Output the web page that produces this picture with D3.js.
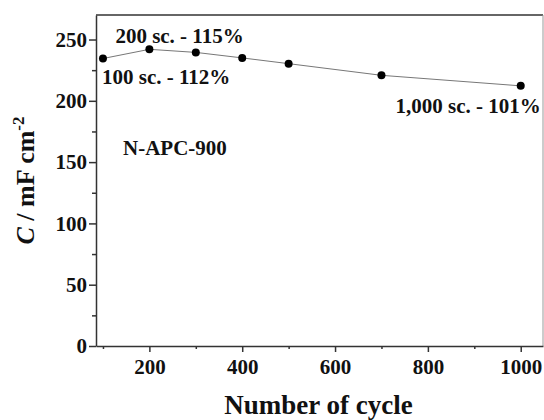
<!DOCTYPE html>
<html>
<head>
<meta charset="utf-8">
<script src="https://cdn.jsdelivr.net/npm/d3@7"></script>
<style>
  body { margin: 0; background: white; }
  svg text { font-family: "Liberation Serif", "Times New Roman", serif !important; font-weight: bold; }
</style>
</head>
<body>
<svg id="chart" width="544" height="420"></svg>
<script>
const cycles = [100, 200, 300, 400, 500, 700, 1000];
const capacitance = [234.5, 242, 239.5, 235, 230.3, 220.8, 212.2];
const xTicks = [200, 400, 600, 800, 1000];
const xMinorTicks = [100, 300, 500, 700, 900];
const yTicks = [0, 50, 100, 150, 200, 250];
const yMinorTicks = [25, 75, 125, 175, 225];
const annotations = [
  { cycle: 200, text: "200 sc. - 115%", dx: -34, dy: -6, anchor: "start" },
  { cycle: 100, text: "100 sc. - 112%", dx: -1, dy: 25, anchor: "start" },
  { cycle: 1000, text: "1,000 sc. - 101%", dx: 20, dy: 27, anchor: "end" }
];
const sampleName = "N-APC-900";

const width = 544;
const height = 420;
const margin = { top: 15, right: 1, bottom: 74, left: 96 };
const plotWidth = width - margin.left - margin.right;
const plotHeight = height - margin.top - margin.bottom;

const svg = d3.select("#chart");

const x = d3.scaleLinear([85, 1048], [0, plotWidth]);
const y = d3.scaleLinear([0, 270], [plotHeight, 0]);

const plotArea = svg
  .append("g")
  .attr("transform", `translate(${margin.left}, ${margin.top})`);

// frame top and right
plotArea.append("line")
  .attr("x1", 0).attr("x2", plotWidth).attr("y1", 0).attr("y2", 0)
  .attr("stroke", "#333").attr("stroke-width", 1.5);
plotArea.append("line")
  .attr("x1", plotWidth).attr("x2", plotWidth).attr("y1", 0).attr("y2", plotHeight)
  .attr("stroke", "#999").attr("stroke-width", 1);

// minor ticks
plotArea.append("g")
  .attr("transform", `translate(0, ${plotHeight})`)
  .call(d3.axisBottom(x).tickValues(xMinorTicks).tickSize(3).tickFormat(""))
  .call((g) => g.select(".domain").remove());
plotArea.append("g")
  .call(d3.axisLeft(y).tickValues(yMinorTicks).tickSize(4).tickFormat(""))
  .call((g) => g.select(".domain").remove());

const xAxis = plotArea.append("g")
  .attr("transform", `translate(0, ${plotHeight})`)
  .call(d3.axisBottom(x).tickValues(xTicks).tickFormat(d3.format("d"))
    .tickSize(6).tickPadding(7).tickSizeOuter(0));
const yAxis = plotArea.append("g")
  .call(d3.axisLeft(y).tickValues(yTicks).tickSize(7).tickPadding(2).tickSizeOuter(0));

plotArea.selectAll(".tick line").attr("stroke", "#333").attr("stroke-width", 1.5);
[xAxis, yAxis].forEach((a) => {
  a.attr("font-family", null).attr("font-size", null);
  a.select(".domain").attr("stroke", "#333").attr("stroke-width", 1.5);
  a.selectAll("text")
    .style("font-size", "21px")
    .attr("fill", "#111");
});

const data = cycles.map((c, i) => ({ cycle: c, value: capacitance[i] }));

plotArea.append("path")
  .datum(data)
  .attr("fill", "none")
  .attr("stroke", "#777")
  .attr("stroke-width", 1)
  .attr("d", d3.line().x((d) => x(d.cycle)).y((d) => y(d.value)));

plotArea.append("g")
  .selectAll("circle")
  .data(data)
  .join("circle")
  .attr("cx", (d) => x(d.cycle))
  .attr("cy", (d) => y(d.value))
  .attr("r", 4)
  .attr("fill", "#000");

plotArea.append("g")
  .selectAll("text")
  .data(annotations)
  .join("text")
  .attr("x", (a) => x(a.cycle) + a.dx)
  .attr("y", (a) => y(capacitance[cycles.indexOf(a.cycle)]) + a.dy)
  .attr("text-anchor", (a) => a.anchor)
  .style("font-size", "21px")
  .attr("fill", "#111")
  .text((a) => a.text);

plotArea.append("text")
  .attr("x", 27)
  .attr("y", 140)
  .style("font-size", "21px")
  .attr("fill", "#111")
  .text(sampleName);

// axis titles
svg.append("text")
  .attr("x", margin.left + plotWidth / 2 - 1)
  .attr("y", 414)
  .attr("text-anchor", "middle")
  .style("font-size", "27px")
  .attr("fill", "#111")
  .text("Number of cycle");

const yTitle = svg.append("text")
  .attr("transform", `translate(34, ${margin.top + plotHeight / 2}) rotate(-90)`)
  .attr("text-anchor", "middle")
  .style("font-size", "26px")
  .attr("fill", "#111");
yTitle.append("tspan").attr("font-style", "italic").text("C");
yTitle.append("tspan").text(" / mF cm");
yTitle.append("tspan").style("font-size", "17px").attr("dy", -10).text("-2");
</script>
</body>
</html>
